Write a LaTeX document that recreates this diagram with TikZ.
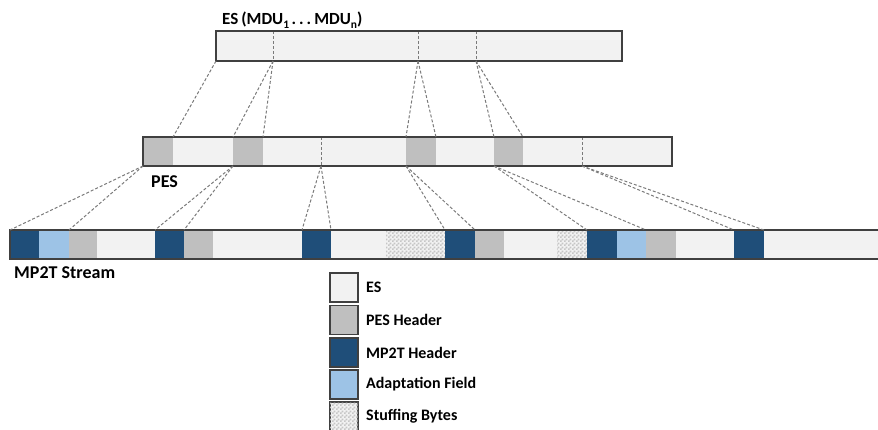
\documentclass[tikz,border=0pt]{standalone}
\usepackage{fontspec}
\setmainfont{Carlito}
\usetikzlibrary{patterns}

% fine checkerboard used for stuffing bytes
\pgfdeclarepatternformonly{checker}{\pgfpointorigin}{\pgfqpoint{4pt}{4pt}}{\pgfqpoint{4pt}{4pt}}{%
  \pgfpathrectangle{\pgfpointorigin}{\pgfqpoint{2pt}{2pt}}%
  \pgfpathrectangle{\pgfqpoint{2pt}{2pt}}{\pgfqpoint{2pt}{2pt}}%
  \pgfusepath{fill}}

\definecolor{esfill}{HTML}{F2F2F2}
\definecolor{pesfill}{HTML}{BFBFBF}
\definecolor{tshead}{HTML}{1F4E79}
\definecolor{adapt}{HTML}{9DC3E6}
\definecolor{framec}{HTML}{404040}
\definecolor{guidec}{HTML}{7A7A7A}

\newcommand\lowidx[1]{\raisebox{-3.5pt}{\fontsize{11.5}{12}\selectfont #1}}

\tikzset{
  seg/.style={rectangle, inner sep=0pt, outer sep=0pt, anchor=north west, draw=none},
  esseg/.style={seg, fill=esfill},
  pesseg/.style={seg, fill=pesfill},
  tsseg/.style={seg, fill=tshead},
  afseg/.style={seg, fill=adapt},
  stseg/.style={seg, fill=esfill, postaction={pattern=checker, pattern color=gray!45}},
  barframe/.style={draw=framec, line width=1.6pt},
  guide/.style={draw=guidec, line width=1pt, dash pattern=on 3pt off 2pt},
  keybox/.style={rectangle, inner sep=0pt, outer sep=0pt, anchor=north west,
    draw=framec, line width=1.4pt, minimum width=28pt, minimum height=29pt},
  keytext/.style={anchor=west, inner sep=0pt, font=\bfseries\fontsize{16}{18}\selectfont},
  label/.style={anchor=base west, inner sep=0pt, font=\bfseries}
}

\begin{document}
\begin{tikzpicture}[x=1pt, y=-1pt]
\useasboundingbox (0,0) rectangle (878,430);

% ---- elementary stream
\foreach \n/\a/\b/\s in {e1/216/273/esseg, e2/273/418/esseg, e3/418/476/esseg, e4/476/622/esseg}
  \node[\s, minimum width={(\b-\a)*1pt}, minimum height=30pt] (\n) at (\a,31) {};

% ---- packetised elementary stream
\foreach \n/\a/\b/\s in {p1/143/173/pesseg, p2/173/233/esseg, p3/233/263/pesseg, p4/263/321/esseg,
    p5/321/406/esseg, p6/406/436/pesseg, p7/436/494/esseg, p8/494/523/pesseg,
    p9/523/582/esseg, p10/582/672/esseg}
  \node[\s, minimum width={(\b-\a)*1pt}, minimum height=29pt] (\n) at (\a,137) {};

% ---- transport stream
\foreach \n/\a/\b/\s in {m1/10/39/tsseg, m2/39/69/afseg, m3/69/97/pesseg, m4/97/155/esseg,
    m5/155/184/tsseg, m6/184/213/pesseg, m7/213/302/esseg,
    m8/302/331/tsseg, m9/331/386/esseg, m10/386/445/stseg,
    m11/445/475/tsseg, m12/475/504/pesseg, m13/504/557/esseg, m14/557/587/stseg,
    m15/587/617/tsseg, m16/617/646/afseg, m17/646/676/pesseg, m18/676/734/esseg,
    m19/734/764/tsseg, m20/764/878/esseg}
  \node[\s, minimum width={(\b-\a)*1pt}, minimum height=29pt] (\n) at (\a,230) {};

% dashed boundaries inside the bars
\foreach \n in {e2,e3,e4,p5,p10}
  \draw[guide] (\n.north west) -- (\n.south west);

% bar outlines
\draw[barframe] (e1.north west) rectangle (e4.south east);
\draw[barframe] (p1.north west) rectangle (p10.south east);
\draw[barframe] (m20.north east) -- (m1.north west) -- (m1.south west) -- (m20.south east);

% ES -> PES
\draw[guide] (e1.south west) -- (p2.north west);
\draw[guide] (e2.south west) -- (p3.north west);
\draw[guide] (e2.south west) -- (p3.north east);
\draw[guide] (e3.south west) -- (p6.north west);
\draw[guide] (e3.south west) -- (p6.north east);
\draw[guide] (e4.south west) -- (p8.north west);
\draw[guide] (e4.south west) -- (p8.north east);

% PES -> MP2T
\draw[guide] (p1.south west) -- (m1.north west);
\draw[guide] (p1.south west) -- (m2.north east);
\draw[guide] (p3.south west) -- (m5.north west);
\draw[guide] (p3.south west) -- (m5.north east);
\draw[guide] (p5.south west) -- (m8.north west);
\draw[guide] (p5.south west) -- (m8.north east);
\draw[guide] (p6.south west) -- (m11.north west);
\draw[guide] (p6.south west) -- (m11.north east);
\draw[guide] (p8.south west) -- (m15.north west);
\draw[guide] (p8.south west) -- (m16.north east);
\draw[guide] (p10.south west) -- (m19.north west);
\draw[guide] (p10.south west) -- (m19.north east);

% labels
\node[label, font=\bfseries\fontsize{17}{20}\selectfont] (title) at (222,25)
  {ES\kern3pt(MDU\lowidx{1}\kern2.5pt.\kern3pt.\kern3pt.\kern3pt MDU\lowidx{n})};
\node[label, font=\bfseries\fontsize{18}{21}\selectfont] (peslabel) at (151,188) {PES};
\node[label, font=\bfseries\fontsize{18}{21}\selectfont] (tslabel) at (14,279) {MP2T Stream};

% legend
\node[keybox, fill=esfill] (k1) at (330,273) {};
\node[keybox, fill=pesfill] (k2) at (330,305.5) {};
\node[keybox, fill=tshead] (k3) at (330,338) {};
\node[keybox, fill=adapt] (k4) at (330,370) {};
\node[keybox, fill=esfill, postaction={pattern=checker, pattern color=gray!45}] (k5) at (330,402) {};
\node[keytext] (t1) at ([xshift=8pt]k1.east) {ES};
\node[keytext] (t2) at ([xshift=8pt]k2.east) {PES Header};
\node[keytext] (t3) at ([xshift=8pt]k3.east) {MP2T Header};
\node[keytext] (t4) at ([xshift=8pt]k4.east) {Adaptation Field};
\node[keytext] (t5) at ([xshift=8pt]k5.east) {Stuffing Bytes};
\end{tikzpicture}
\end{document}
